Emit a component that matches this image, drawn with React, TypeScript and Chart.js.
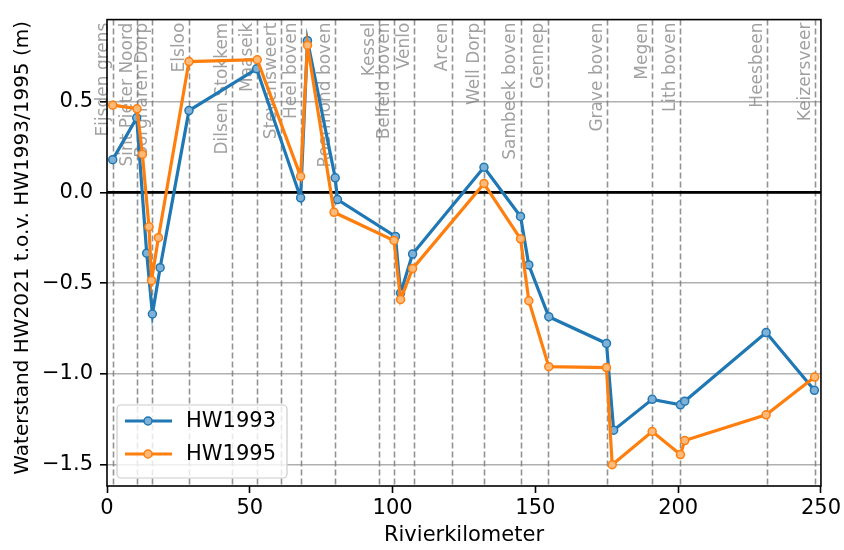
import React, { useEffect, useRef } from 'react';
import { Chart, registerables } from 'chart.js';

Chart.register(...registerables);

// ---------- data ----------
const seriesLabels = ['HW1993', 'HW1995'];

const kmHW1993 = [2, 10.4, 13.9, 15.9, 18.6, 28.7, 52.4, 67.8, 70.2, 79.9, 80.7, 101, 102.8, 107, 132, 144.8, 147.7, 154.7, 174.9, 177.4, 190.9, 200.8, 202.3, 230.8, 247.7];
const valHW1993 = [0.18, 0.41, -0.335, -0.67, -0.415, 0.45, 0.68, -0.03, 0.835, 0.08, -0.04, -0.243, -0.555, -0.34, 0.138, -0.133, -0.40, -0.685, -0.832, -1.31, -1.14, -1.17, -1.15, -0.772, -1.09];

const kmHW1995 = [2, 10.5, 12.4, 14.7, 15.6, 18.0, 28.7, 52.6, 67.8, 70.2, 79.5, 100.5, 102.8, 107, 132, 144.8, 147.7, 154.7, 174.9, 176.9, 190.9, 200.8, 202.3, 230.8, 247.8];
const valHW1995 = [0.48, 0.46, 0.21, -0.19, -0.485, -0.25, 0.72, 0.73, 0.088, 0.81, -0.11, -0.265, -0.59, -0.42, 0.048, -0.256, -0.597, -0.96, -0.965, -1.50, -1.317, -1.444, -1.367, -1.225, -1.017];

const stationNames = ['Eijsden grens', 'Sint Pieter Noord', 'Borgharen Dorp', 'Elsloo', 'Dilsen Stokkem', 'Maaseik', 'Stevensweert', 'Heel boven', 'Roermond boven', 'Kessel', 'Belfeld boven', 'Venlo', 'Arcen', 'Well Dorp', 'Sambeek boven', 'Gennep', 'Grave boven', 'Megen', 'Lith boven', 'Heesbeen', 'Keizersveer'];
const stationKm = [2.1, 10.5, 15.9, 28.7, 43.9, 52.6, 61.1, 67.8, 80.0, 95.2, 100.5, 107.5, 120.9, 132, 144.8, 154.5, 175.1, 190.9, 200.8, 231, 247.8];

const xTicks = [0, 50, 100, 150, 200, 250];
const yTicks = [-1.5, -1.0, -0.5, 0.0, 0.5];
const xRange = [0, 250];
const yRange = [-1.617, 0.951];

const xTitle = 'Rivierkilometer';
const yTitle = 'Waterstand HW2021 t.o.v. HW1993/1995 (m)';

const FONT = "'DejaVu Sans', sans-serif";
const FS = 21;
const BLUE = '#1f77b4';
const ORANGE = '#ff7f0e';
const colors = [BLUE, ORANGE];
const fills = ['#7fb1d6', '#ffb979'];

const overlayPlugin = {
  id: 'overlay',
  beforeDatasetsDraw(chart: any) {
    const { ctx, chartArea, scales } = chart;
    const { left, right, top, bottom } = chartArea;
    const x = scales.x;
    const y = scales.y;
    ctx.save();
    // vertical dashed station lines
    ctx.setLineDash([6, 3]);
    ctx.strokeStyle = 'rgba(120,120,120,0.8)';
    ctx.lineWidth = 1.6;
    stationKm.forEach((km) => {
      const px = Math.round(x.getPixelForValue(km)) + 0.5;
      ctx.beginPath();
      ctx.moveTo(px, top);
      ctx.lineTo(px, bottom);
      ctx.stroke();
    });
    ctx.setLineDash([]);
    // station labels
    ctx.fillStyle = 'rgba(120,120,120,0.7)';
    ctx.font = `17px ${FONT}`;
    stationKm.forEach((km, i) => {
      const px = x.getPixelForValue(km);
      ctx.save();
      ctx.translate(px - 1, top + 3);
      ctx.rotate(-Math.PI / 2);
      ctx.textAlign = 'right';
      ctx.textBaseline = 'bottom';
      ctx.fillText(stationNames[i], 0, 0);
      ctx.restore();
    });
    // zero line
    const y0 = y.getPixelForValue(0);
    ctx.strokeStyle = 'black';
    ctx.lineWidth = 2.8;
    ctx.beginPath();
    ctx.moveTo(left, y0);
    ctx.lineTo(right, y0);
    ctx.stroke();
    ctx.restore();
  },
  afterDraw(chart: any) {
    const { ctx, chartArea } = chart;
    const { left, right, top, bottom } = chartArea;
    ctx.save();
    // frame
    ctx.strokeStyle = 'black';
    ctx.lineWidth = 1.6;
    ctx.strokeRect(left, top, right - left, bottom - top);
    // y title
    ctx.save();
    ctx.translate(23, (top + bottom) / 2 - 5);
    ctx.rotate(-Math.PI / 2);
    ctx.textAlign = 'center';
    ctx.textBaseline = 'middle';
    ctx.fillStyle = '#000';
    ctx.font = `20px ${FONT}`;
    ctx.fillText(yTitle, 0, 0);
    ctx.restore();
    // legend
    const lx = left + 10;
    const ly = bottom - 81;
    const lw = 170;
    const lh = 73;
    ctx.beginPath();
    ctx.roundRect(lx, ly, lw, lh, 4);
    ctx.fillStyle = 'rgba(255,255,255,0.8)';
    ctx.fill();
    ctx.strokeStyle = '#cccccc';
    ctx.lineWidth = 1.2;
    ctx.stroke();
    seriesLabels.forEach((lab, i) => {
      const cy = ly + 16 + i * 33;
      ctx.strokeStyle = colors[i];
      ctx.lineWidth = 3.2;
      ctx.beginPath();
      ctx.moveTo(lx + 8, cy);
      ctx.lineTo(lx + 55, cy);
      ctx.stroke();
      ctx.beginPath();
      ctx.arc(lx + 31, cy, 4, 0, Math.PI * 2);
      ctx.fillStyle = fills[i];
      ctx.fill();
      ctx.lineWidth = 1.5;
      ctx.stroke();
      ctx.fillStyle = '#000';
      ctx.font = `${FS}px ${FONT}`;
      ctx.textAlign = 'left';
      ctx.textBaseline = 'middle';
      ctx.fillText(lab, lx + 69, cy + 1);
    });
    ctx.restore();
  },
};

export default function App() {
  const ref = useRef<HTMLCanvasElement | null>(null);

  useEffect(() => {
    if (!ref.current) return;
    const mk = (kms: number[], vals: number[]) => kms.map((k, i) => ({ x: k, y: vals[i] }));
    const chart = new Chart(ref.current, {
      type: 'line',
      data: {
        datasets: [
          {
            label: seriesLabels[0],
            data: mk(kmHW1993, valHW1993),
            borderColor: BLUE,
            backgroundColor: BLUE,
            pointBackgroundColor: fills[0],
            pointBorderColor: BLUE,
            borderWidth: 3.2,
            pointRadius: 4,
            pointBorderWidth: 1.5,
            tension: 0,
            order: 2,
          },
          {
            label: seriesLabels[1],
            data: mk(kmHW1995, valHW1995),
            borderColor: ORANGE,
            backgroundColor: ORANGE,
            pointBackgroundColor: fills[1],
            pointBorderColor: ORANGE,
            borderWidth: 3.2,
            pointRadius: 4,
            pointBorderWidth: 1.5,
            tension: 0,
            order: 1,
          },
        ],
      },
      options: {
        responsive: false,
        animation: false,
        layout: { padding: { left: 0, right: 22, top: 19, bottom: 0 } },
        plugins: {
          legend: { display: false },
          tooltip: { enabled: false },
        },
        scales: {
          x: {
            type: 'linear',
            min: xRange[0],
            max: xRange[1],
            afterBuildTicks: (s: any) => {
              s.ticks = xTicks.map((v) => ({ value: v }));
            },
            afterFit: (s: any) => {
              s.height = 64;
            },
            ticks: {
              font: { family: FONT, size: FS },
              color: '#000',
              padding: 3,
              maxRotation: 0,
              callback: (v: any) => String(v),
            },
            grid: {
              drawOnChartArea: false,
              drawTicks: true,
              tickLength: 7,
              tickColor: '#000',
              tickWidth: 1.6,
            },
            border: { display: false },
            title: {
              display: true,
              text: xTitle,
              font: { family: FONT, size: FS },
              color: '#000',
              padding: { top: 0, bottom: 2 },
            },
          },
          y: {
            type: 'linear',
            min: yRange[0],
            max: yRange[1],
            afterBuildTicks: (s: any) => {
              s.ticks = yTicks.map((v) => ({ value: v }));
            },
            afterFit: (s: any) => {
              s.width = 107;
            },
            ticks: {
              font: { family: FONT, size: FS },
              color: '#000',
              padding: 7,
              callback: (v: any) => Number(v).toFixed(1).replace('-', '\u2212'),
            },
            grid: {
              drawOnChartArea: true,
              color: '#b0b0b0',
              lineWidth: 1.6,
              drawTicks: true,
              tickLength: 7,
              tickColor: '#000',
              tickWidth: 1.6,
            },
            border: { display: false },
            title: { display: false, text: yTitle },
          },
        },
      },
      plugins: [overlayPlugin],
    });
    return () => chart.destroy();
  }, []);

  return (
    <div style={{ position: 'fixed', left: 0, top: 0, width: 844, height: 550, background: '#fff' }}>
      <canvas ref={ref} width={844} height={550} style={{ display: 'block' }} />
    </div>
  );
}
